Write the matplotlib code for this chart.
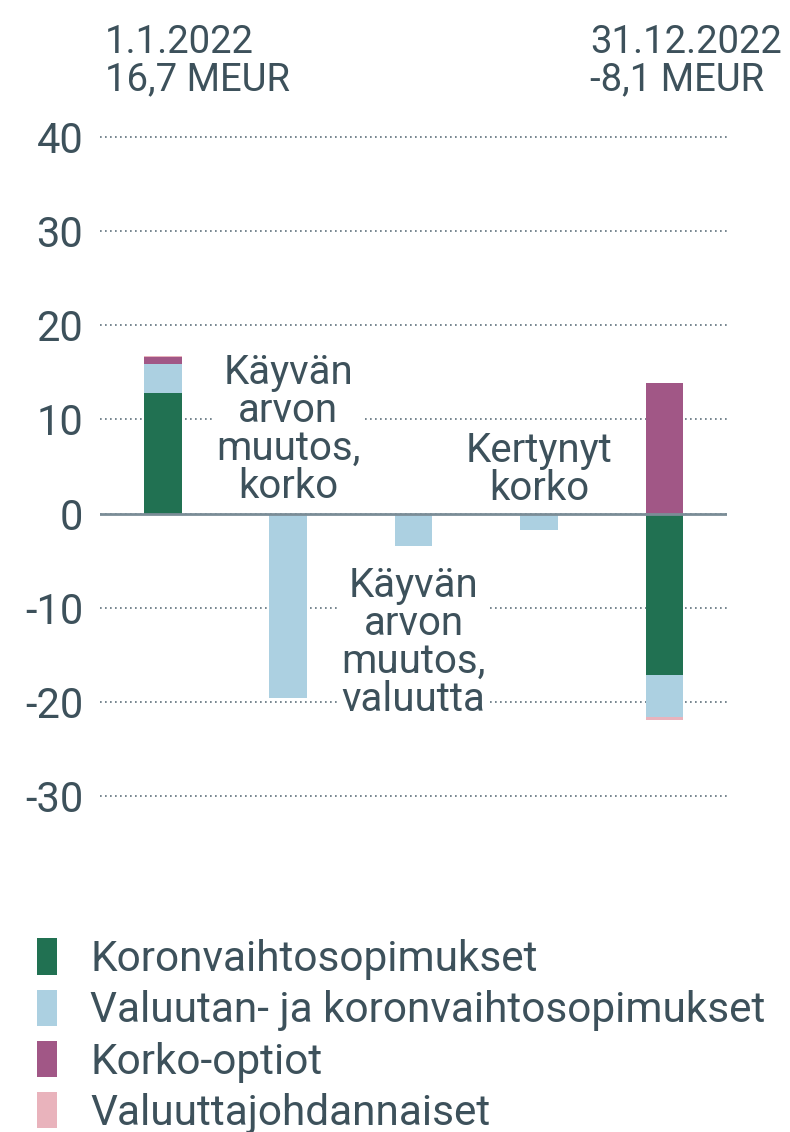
import matplotlib.pyplot as plt
from matplotlib.patches import Patch

plt.rcParams['font.family'] = ['Roboto', 'DejaVu Sans']

# data (MEUR)
steps = ['1.1.2022', 'Käyvän arvon muutos, korko', 'Käyvän arvon muutos, valuutta',
         'Kertynyt korko', '31.12.2022']
series = ['Koronvaihtosopimukset', 'Valuutan- ja koronvaihtosopimukset',
          'Korko-optiot', 'Valuuttajohdannaiset']
koronvaihto = [12.8, 0.0, 0.0, 0.0, -17.1]
valuutan_koron = [3.1, -19.6, -3.4, -1.7, -4.5]
korko_optiot = [0.7, 0.0, 0.0, 0.0, 13.9]
valuutta_joh = [0.1, 0.0, 0.0, 0.0, -0.3]
values = [koronvaihto, valuutan_koron, korko_optiot, valuutta_joh]
colors = ['#217152', '#acd0e1', '#a15786', '#e9b3bc']
yticks = list(range(-30, 41, 10))

txt = '#3d515b'
grid_c = '#5f717b'

fig = plt.figure(figsize=(7.9, 11.32), dpi=100)
ax = fig.add_axes([0.1266, 0.2927, 0.7937, 0.5905])

x = list(range(len(steps)))
pos_base = [0.0] * len(steps)
neg_base = [0.0] * len(steps)
for vals, c in zip(values, colors):
    bottoms = []
    for i, v in enumerate(vals):
        if v >= 0:
            bottoms.append(pos_base[i])
            pos_base[i] += v
        else:
            bottoms.append(neg_base[i])
            neg_base[i] += v
    ax.bar(x, vals, bottom=bottoms, width=0.3, color=c, zorder=2)

ax.set_xlim(-0.5, 4.5)
ax.set_ylim(-30.5, 40.5)
ax.set_yticks(yticks)
ax.set_yticklabels([str(t) for t in yticks])
ax.yaxis.grid(True, linestyle=(0, (1, 2)), color=grid_c, linewidth=1.2, zorder=0)
ax.axhline(0, color='#7b8d97', linewidth=2, zorder=3)
ax.set_xticks([])
ax.tick_params(axis='y', length=0, pad=12, labelsize=30, labelcolor=txt)
for s in ax.spines.values():
    s.set_visible(False)

box = dict(facecolor='white', edgecolor='none', pad=1)
ax.text(1, 8.9, 'Käyvän\narvon\nmuutos,\nkorko', ha='center', va='center',
        fontsize=29, color=txt, linespacing=0.97, bbox=box, zorder=4)
ax.text(2, -13.7, 'Käyvän\narvon\nmuutos,\nvaluutta', ha='center', va='center',
        fontsize=29, color=txt, linespacing=0.97, bbox=box, zorder=4)
ax.text(3, 4.7, 'Kertynyt\nkorko', ha='center', va='center',
        fontsize=29, color=txt, linespacing=0.97, bbox=box, zorder=4)

fig.text(0.133, 0.979, '1.1.2022\n16,7 MEUR', ha='left', va='top',
         fontsize=27.5, color=txt, linespacing=1.0)
fig.text(0.99, 0.979, '31.12.2022\n-8,1 MEUR', ha='right', va='top',
         fontsize=27.5, color=txt, linespacing=1.0, multialignment='left')

handles = [Patch(facecolor=c, edgecolor='none') for c in colors]
leg = fig.legend(handles, series, loc='upper left', bbox_to_anchor=(0.026, 0.186),
                 frameon=False, fontsize=30.5, handlelength=0.45, handleheight=0.95,
                 handletextpad=0.8, labelspacing=0.22, borderaxespad=0)
for t in leg.get_texts():
    t.set_color(txt)

fig.savefig('out.png', dpi=100)
